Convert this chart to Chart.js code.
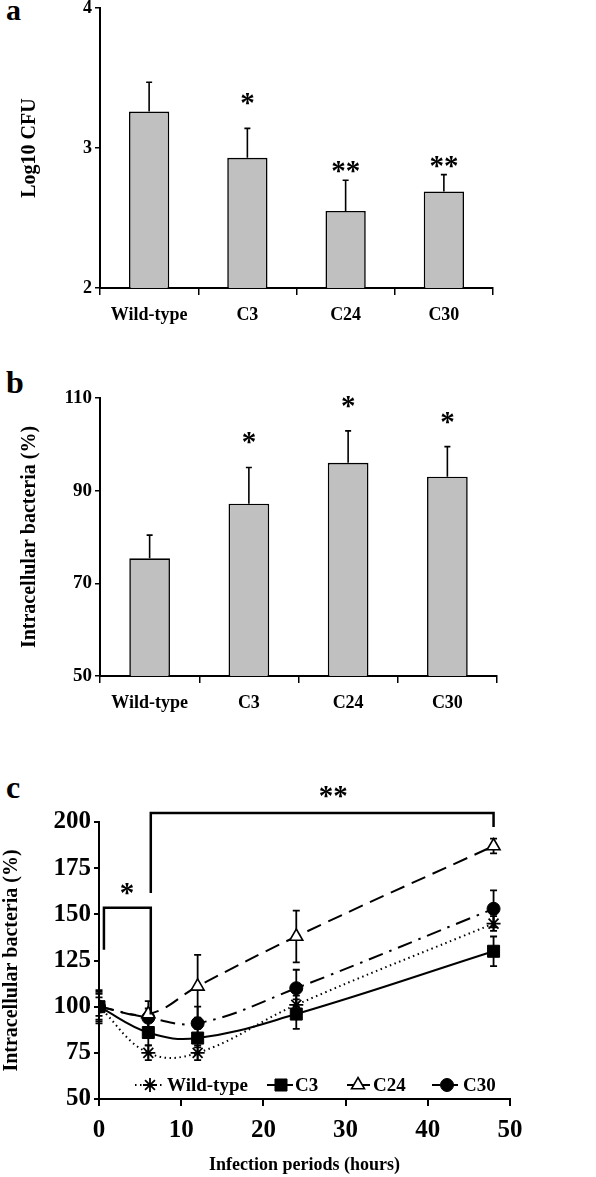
<!DOCTYPE html>
<html><head><meta charset="utf-8">
<script src="https://cdn.jsdelivr.net/npm/chart.js@4.4.1/dist/chart.umd.min.js"></script>
<style>
html,body{margin:0;padding:0;background:#fff;}
body{width:596px;height:1177px;position:relative;overflow:hidden;font-family:"Liberation Serif","Times New Roman",serif;}
.cv{position:absolute;left:0;width:596px;}
.lbl{position:absolute;font-weight:bold;line-height:1;color:#000;}
</style></head><body>
<div class="lbl" style="left:6px;top:-5px;font-size:30px">a</div>
<div class="lbl" style="left:6px;top:366px;font-size:32px">b</div>
<div class="lbl" style="left:6px;top:771px;font-size:32px">c</div>
<div class="cv" style="top:0;height:330px"><canvas id="ca"></canvas></div>
<div class="cv" style="top:330px;height:390px"><canvas id="cb"></canvas></div>
<div class="cv" style="top:720px;height:457px"><canvas id="cc"></canvas></div>
<script>
// ---------- data ----------
const barCategories = ['Wild-type', 'C3', 'C24', 'C30'];

const cfuValues = [3.26, 2.93, 2.55, 2.69];
const cfuErrors = [0.21, 0.21, 0.22, 0.12];
const cfuStars = ['', '*', '**', '**'];
const cfuStarLevel = [null, 3.36, 2.87, 2.91];
const cfuTicks = [2, 3, 4];

const intraValues = [75.4, 87.2, 96.0, 93.0];
const intraErrors = [5.0, 7.8, 6.9, 6.5];
const intraStars = ['', '*', '*', '*'];
const intraStarLevel = [null, 101.5, 109.4, 106.0];
const intraTicks = [50, 70, 90, 110];

const hours = [0, 6, 12, 24, 48];
const wtValues  = [100, 75, 75, 101, 145];
const wtErrors  = [9, 4, 4, 5, 4];
const c3Values  = [100, 86, 83, 96, 130];
const c3Errors  = [8, 7, 5, 8, 8];
const c24Values = [100, 96, 111, 138, 187];
const c24Errors = [5, 7, 17, 14, 4];
const c30Values = [100, 94, 91, 110, 153];
const c30Errors = [7, 5, 9, 10, 10];
const seriesNames = ['Wild-type', 'C3', 'C24', 'C30'];
const hourTicks = [0, 10, 20, 30, 40, 50];
const pctTicks = [50, 75, 100, 125, 150, 175, 200];

// significance brackets (data units)
const bracketX1 = [0.6, 6.3];
const bracketX2 = [6.3, 48];
const bracketYLeft = [130.8, 161.6];
const bracketYTop = [153.5, 204.9];
const bracketYRight = [95.7, 197.3];
const bracketLabels = ['*', '**'];
const bracketLabelX = [3.4, 28.5];
const bracketLabelY = [164.3, 217];

// ---------- helpers ----------
const FAM = '"Liberation Serif","Times New Roman",serif';
Chart.defaults.font.family = FAM;
Chart.defaults.color = '#000';

const barErrPlugin = {
  id: 'barErr',
  afterDatasetsDraw(chart, args, o) {
    const ctx = chart.ctx, meta = chart.getDatasetMeta(0), ys = chart.scales.y;
    ctx.save();
    ctx.strokeStyle = '#000'; ctx.fillStyle = '#000'; ctx.lineWidth = 1.6;
    o.values.forEach((v, i) => {
      const x = meta.data[i].x;
      const y0 = ys.getPixelForValue(v), y1 = ys.getPixelForValue(v + o.errors[i]);
      ctx.beginPath();
      ctx.moveTo(x, y0); ctx.lineTo(x, y1);
      ctx.moveTo(x - 3, y1); ctx.lineTo(x + 3, y1);
      ctx.stroke();
      if (o.stars[i]) {
        ctx.font = 'bold 29px ' + FAM;
        ctx.textAlign = 'center'; ctx.textBaseline = 'alphabetic';
        ctx.fillText(o.stars[i], x, ys.getPixelForValue(o.levels[i]) + 14);
      }
    });
    ctx.restore();
  }
};

function makeBar(id, vals, errs, stars, levels, ticks, title, g, tickSize, titlePad) {
  new Chart(document.getElementById(id), {
    type: 'bar',
    data: { labels: barCategories, datasets: [{ data: vals, backgroundColor: '#c0c0c0', borderColor: '#000', borderWidth: 1.6, barPercentage: 0.41, categoryPercentage: 1 }] },
    plugins: [barErrPlugin],
    options: {
      responsive: true, maintainAspectRatio: false, animation: false, devicePixelRatio: 1,
      layout: { padding: { left: 0, top: g.top, right: 596 - g.right, bottom: 0 } },
      plugins: { legend: { display: false }, tooltip: { enabled: false },
        barErr: { values: vals, errors: errs, stars: stars, levels: levels } },
      scales: {
        x: {
          offset: true,
          grid: { offset: true, drawOnChartArea: false, drawTicks: true, tickLength: 7, color: '#000', lineWidth: 1.5 },
          border: { color: '#000', width: 2 },
          ticks: { color: '#000', font: { family: FAM, weight: 'bold', size: 18 }, padding: 10, maxRotation: 0 },
          afterFit(s) { s.height = g.h - g.bottom; s.paddingLeft = 0; s.paddingRight = 0; }
        },
        y: {
          min: ticks[0], max: ticks[ticks.length - 1],
          afterBuildTicks(s) { s.ticks = ticks.map(v => ({ value: v })); },
          grid: { drawOnChartArea: false, tickLength: 5, color: '#000', lineWidth: 1.5 },
          border: { color: '#000', width: 2 },
          ticks: { color: '#000', font: { family: FAM, weight: 'bold', size: tickSize }, padding: 3 },
          title: { display: true, text: title, color: '#000', font: { family: FAM, weight: 'bold', size: 20 }, padding: { top: titlePad, bottom: 0 } },
          afterFit(s) { s.width = g.left; s.paddingTop = 0; s.paddingBottom = 0; }
        }
      }
    }
  });
}

makeBar('ca', cfuValues, cfuErrors, cfuStars, cfuStarLevel, cfuTicks, 'Log10 CFU',
  { left: 100, right: 493, top: 8, bottom: 288, h: 330 }, 18, 18);
makeBar('cb', intraValues, intraErrors, intraStars, intraStarLevel, intraTicks, 'Intracellular bacteria (%)',
  { left: 100, right: 497, top: 68, bottom: 346, h: 390 }, 19, 18);

// ---------- line chart ----------
const lineVals = [wtValues, c3Values, c24Values, c30Values];
const lineErrs = [wtErrors, c3Errors, c24Errors, c30Errors];
const styles = [
  { dash: [1.5, 3.5], pointStyle: 'star', radius: 7, bg: '#000', bw: 1.8 },
  { dash: [], pointStyle: 'rect', radius: 8.5, bg: '#000', bw: 1 },
  { dash: [15, 8], pointStyle: 'triangle', radius: 7.5, bg: '#fff', bw: 1.6 },
  { dash: [15, 7, 2.5, 7], pointStyle: 'circle', radius: 6.5, bg: '#000', bw: 1 }
];

const lineErrPlugin = {
  id: 'lineErr',
  beforeDatasetsDraw(chart) {
    const ctx = chart.ctx, xs = chart.scales.x, ys = chart.scales.y;
    ctx.save(); ctx.strokeStyle = '#000'; ctx.lineWidth = 1.8;
    lineVals.forEach((vals, k) => {
      vals.forEach((v, i) => {
        const x = xs.getPixelForValue(hours[i]);
        const yA = ys.getPixelForValue(v + lineErrs[k][i]), yB = ys.getPixelForValue(v - lineErrs[k][i]);
        ctx.beginPath();
        ctx.moveTo(x, yA); ctx.lineTo(x, yB);
        ctx.moveTo(x - 3.5, yA); ctx.lineTo(x + 3.5, yA);
        ctx.moveTo(x - 3.5, yB); ctx.lineTo(x + 3.5, yB);
        ctx.stroke();
      });
    });
    ctx.restore();
  },
  afterDraw(chart) {
    const ctx = chart.ctx, xs = chart.scales.x, ys = chart.scales.y;
    ctx.save();
    ctx.strokeStyle = '#000'; ctx.fillStyle = '#000'; ctx.lineWidth = 2.5; ctx.lineJoin = 'miter'; ctx.lineCap = 'butt';
    for (let i = 0; i < bracketLabels.length; i++) {
      const xa = xs.getPixelForValue(bracketX1[i]), xb = xs.getPixelForValue(bracketX2[i]);
      ctx.beginPath();
      ctx.moveTo(xa, ys.getPixelForValue(bracketYLeft[i]));
      ctx.lineTo(xa, ys.getPixelForValue(bracketYTop[i]));
      ctx.lineTo(xb, ys.getPixelForValue(bracketYTop[i]));
      ctx.lineTo(xb, ys.getPixelForValue(bracketYRight[i]));
      ctx.stroke();
      ctx.font = 'bold 29px ' + FAM; ctx.textAlign = 'center'; ctx.textBaseline = 'alphabetic';
      ctx.fillText(bracketLabels[i], xs.getPixelForValue(bracketLabelX[i]), ys.getPixelForValue(bracketLabelY[i]) + 14);
    }
    // legend
    const ly = 365;
    const items = [
      { l1: 135, l2: 163, m: 150, t: 167 },
      { l1: 267, l2: 293, m: 281, t: 295 },
      { l1: 347, l2: 372, m: 358, t: 373 },
      { l1: 432, l2: 460, m: 447, t: 463 }
    ];
    items.forEach((it, k) => {
      const st = styles[k];
      ctx.setLineDash(k === 2 ? [9, 5] : k === 3 ? [8, 4, 2, 4] : st.dash);
      ctx.lineWidth = 2;
      ctx.beginPath(); ctx.moveTo(it.l1, ly); ctx.lineTo(it.l2, ly); ctx.stroke();
      ctx.setLineDash([]);
      ctx.fillStyle = st.bg; ctx.strokeStyle = '#000'; ctx.lineWidth = st.bw;
      Chart.helpers.drawPoint(ctx, { pointStyle: st.pointStyle, radius: st.radius, borderWidth: st.bw, rotation: 0 }, it.m, ly);
      ctx.fillStyle = '#000';
      ctx.font = 'bold 19px ' + FAM; ctx.textAlign = 'left'; ctx.textBaseline = 'middle';
      ctx.fillText(seriesNames[k], it.t, ly + 1);
    });
    ctx.restore();
  }
};

new Chart(document.getElementById('cc'), {
  type: 'line',
  data: {
    datasets: lineVals.map((vals, k) => ({
      label: seriesNames[k],
      data: hours.map((h, i) => ({ x: h, y: vals[i] })),
      borderColor: '#000', borderWidth: 2, borderDash: styles[k].dash,
      pointStyle: styles[k].pointStyle, pointRadius: styles[k].radius,
      pointBackgroundColor: styles[k].bg, pointBorderColor: '#000', pointBorderWidth: styles[k].bw,
      tension: 0.4, fill: false
    }))
  },
  plugins: [lineErrPlugin],
  options: {
    responsive: true, maintainAspectRatio: false, animation: false, devicePixelRatio: 1,
    layout: { padding: { left: 0, top: 102, right: 596 - 510, bottom: 0 } },
    plugins: { legend: { display: false }, tooltip: { enabled: false } },
    scales: {
      x: {
        type: 'linear', min: hourTicks[0], max: hourTicks[hourTicks.length - 1],
        afterBuildTicks(s) { s.ticks = hourTicks.map(v => ({ value: v })); },
        grid: { drawOnChartArea: false, tickLength: 7, color: '#000', lineWidth: 2 },
        border: { color: '#000', width: 2 },
        ticks: { color: '#000', font: { family: FAM, weight: 'bold', size: 25 }, padding: 10, maxRotation: 0 },
        title: { display: true, text: 'Infection periods (hours)', color: '#000', font: { family: FAM, weight: 'bold', size: 18 }, padding: { top: 0, bottom: 1 } },
        afterFit(s) { s.height = 457 - 379; s.paddingLeft = 0; s.paddingRight = 0; }
      },
      y: {
        min: pctTicks[0], max: pctTicks[pctTicks.length - 1],
        afterBuildTicks(s) { s.ticks = pctTicks.map(v => ({ value: v })); },
        grid: { drawOnChartArea: false, tickLength: 5, color: '#000', lineWidth: 2 },
        border: { color: '#000', width: 2 },
        ticks: { color: '#000', font: { family: FAM, weight: 'bold', size: 25 }, padding: 3 },
        title: { display: true, text: 'Intracellular bacteria (%)', color: '#000', font: { family: FAM, weight: 'bold', size: 20 }, padding: { top: 0, bottom: 0 } },
        afterFit(s) { s.width = 99; s.paddingTop = 0; s.paddingBottom = 0; }
      }
    }
  }
});
</script>
</body></html>
